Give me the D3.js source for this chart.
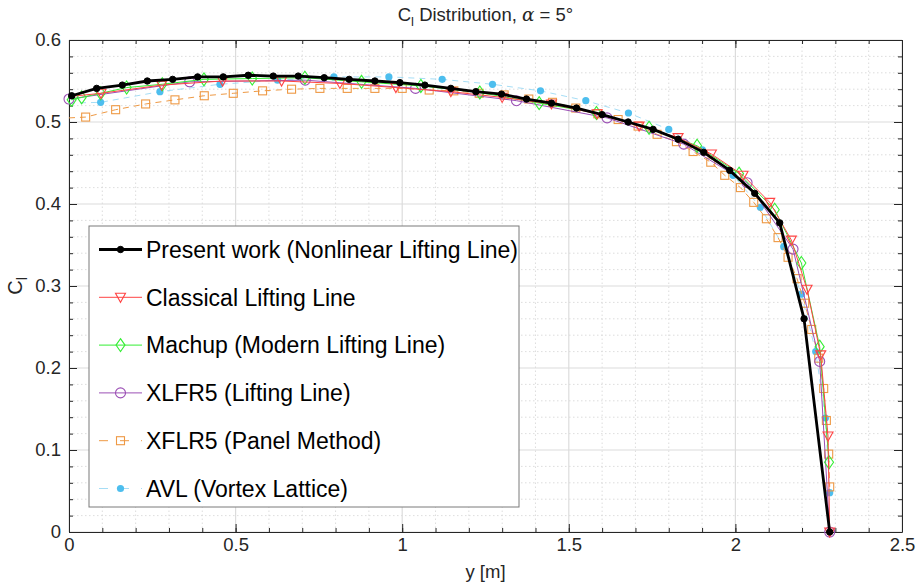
<!DOCTYPE html>
<html>
<head>
<meta charset="utf-8">
<script src="https://cdn.jsdelivr.net/npm/d3@7"></script>
<style>
  body { margin: 0; background: #fff; }
  svg { display: block; font-family: "Liberation Sans", Arial, sans-serif; }
</style>
</head>
<body>
<div id="chart"></div>
<script>
// 展向升力系数分布 (y [m], Cl)
const presentX = [0.008, 0.083, 0.160, 0.235, 0.311, 0.386, 0.463, 0.538, 0.613, 0.688, 0.766, 0.841, 0.918, 0.993, 1.068, 1.146, 1.221, 1.298, 1.373, 1.448, 1.523, 1.600, 1.678, 1.753, 1.828, 1.905, 1.983, 2.058, 2.133, 2.206, 2.283];
const presentY = [0.532, 0.541, 0.545, 0.550, 0.552, 0.555, 0.555, 0.557, 0.556, 0.556, 0.554, 0.552, 0.550, 0.548, 0.545, 0.541, 0.537, 0.534, 0.528, 0.523, 0.517, 0.509, 0.500, 0.491, 0.479, 0.463, 0.441, 0.413, 0.377, 0.260, 0.000];

const classicX = [0.000, 0.096, 0.278, 0.461, 0.638, 0.813, 0.981, 1.146, 1.300, 1.448, 1.585, 1.711, 1.828, 1.928, 2.023, 2.103, 2.168, 2.215, 2.256, 2.278, 2.283];
const classicY = [0.531, 0.535, 0.545, 0.550, 0.550, 0.547, 0.542, 0.537, 0.530, 0.522, 0.510, 0.495, 0.481, 0.461, 0.435, 0.402, 0.356, 0.296, 0.216, 0.117, 0.000];

const machupX = [0.008, 0.038, 0.095, 0.173, 0.280, 0.405, 0.550, 0.708, 0.878, 1.056, 1.233, 1.411, 1.583, 1.741, 1.885, 2.011, 2.118, 2.198, 2.253, 2.281];
const machupY = [0.527, 0.530, 0.535, 0.542, 0.546, 0.552, 0.553, 0.554, 0.549, 0.544, 0.536, 0.523, 0.511, 0.493, 0.471, 0.437, 0.393, 0.328, 0.226, 0.085];

const xlfrX = [0.000, 0.362, 0.709, 1.040, 1.343, 1.615, 1.845, 2.035, 2.173, 2.253, 2.283];
const xlfrY = [0.528, 0.549, 0.551, 0.541, 0.526, 0.505, 0.473, 0.426, 0.345, 0.208, 0.000];

const panelX = [0.000, 0.050, 0.140, 0.230, 0.318, 0.406, 0.493, 0.581, 0.668, 0.753, 0.835, 0.918, 1.000, 1.081, 1.155, 1.231, 1.306, 1.380, 1.451, 1.521, 1.587, 1.648, 1.708, 1.765, 1.823, 1.873, 1.926, 1.968, 2.015, 2.055, 2.093, 2.128, 2.158, 2.185, 2.208, 2.229, 2.250, 2.265, 2.273, 2.280, 2.283];
const panelY = [0.505, 0.506, 0.515, 0.522, 0.527, 0.532, 0.535, 0.538, 0.540, 0.541, 0.541, 0.541, 0.541, 0.539, 0.538, 0.535, 0.533, 0.528, 0.524, 0.517, 0.510, 0.503, 0.495, 0.485, 0.476, 0.464, 0.451, 0.435, 0.420, 0.402, 0.382, 0.359, 0.335, 0.309, 0.279, 0.247, 0.212, 0.175, 0.136, 0.095, 0.055];

const avlX = [0.000, 0.095, 0.273, 0.453, 0.626, 0.795, 0.960, 1.120, 1.271, 1.415, 1.551, 1.679, 1.800, 1.901, 1.993, 2.075, 2.145, 2.198, 2.241, 2.270, 2.283];
const avlY = [0.523, 0.524, 0.537, 0.546, 0.551, 0.555, 0.555, 0.552, 0.546, 0.538, 0.526, 0.511, 0.491, 0.466, 0.435, 0.396, 0.348, 0.290, 0.220, 0.139, 0.048];

const seriesNames = [
    "Present work (Nonlinear Lifting Line)",
    "Classical Lifting Line",
    "Machup (Modern Lifting Line)",
    "XLFR5 (Lifting Line)",
    "XFLR5 (Panel Method)",
    "AVL (Vortex Lattice)"
];

const xTicks = [0, 0.5, 1, 1.5, 2, 2.5];
const yTicks = [0, 0.1, 0.2, 0.3, 0.4, 0.5, 0.6];

// 样式
const series = [
    { name: seriesNames[0], xs: presentX, ys: presentY, color: "#000000", width: 2.8, dash: null, marker: "dot", markFrom: 0 },
    { name: seriesNames[1], xs: classicX, ys: classicY, color: "#ff4444", width: 1, dash: null, marker: "tri", markFrom: 1 },
    { name: seriesNames[2], xs: machupX, ys: machupY, color: "#33ee33", width: 1, dash: null, marker: "diamond", markFrom: 0 },
    { name: seriesNames[3], xs: xlfrX, ys: xlfrY, color: "#9b4fb5", width: 1, dash: null, marker: "circle", markFrom: 0 },
    { name: seriesNames[4], xs: panelX, ys: panelY, color: "#ee9944", width: 1, dash: "6,5", marker: "square", markFrom: 1 },
    { name: seriesNames[5], xs: avlX, ys: avlY, color: "#4dbeee", width: 0.8, dash: "6,5", marker: "fdot", markFrom: 1, lineColor: "#8fd4f2" }
];

const W = 921, H = 582;
const margin = { left: 69, right: 19, top: 40, bottom: 50 };

const svg = d3.select('#chart').append('svg')
    .attr('width', W)
    .attr('height', H);

const x = d3.scaleLinear().domain([0, 2.5]).range([margin.left, W - margin.right]);
const y = d3.scaleLinear().domain([0, 0.6]).range([H - margin.bottom, margin.top]);

// 网格
const grid = svg.append('g');
grid.selectAll('.vminor')
    .data(d3.range(0, 26).map(i => i / 10).filter(v => Math.abs(v * 2 - Math.round(v * 2)) > 1e-6))
    .join('line')
    .attr('x1', d => x(d)).attr('x2', d => x(d))
    .attr('y1', y(0)).attr('y2', y(0.6))
    .style('stroke', '#d4d4d4').style('stroke-width', 0.8).style('stroke-dasharray', '1.5,2.5');
grid.selectAll('.hminor')
    .data(d3.range(0, 31).map(i => i / 50).filter(v => Math.abs(v * 10 - Math.round(v * 10)) > 1e-6))
    .join('line')
    .attr('x1', x(0)).attr('x2', x(2.5))
    .attr('y1', d => y(d)).attr('y2', d => y(d))
    .style('stroke', '#d4d4d4').style('stroke-width', 0.8).style('stroke-dasharray', '1.5,2.5');
grid.selectAll('.vmajor')
    .data(xTicks)
    .join('line')
    .attr('x1', d => x(d)).attr('x2', d => x(d))
    .attr('y1', y(0)).attr('y2', y(0.6))
    .style('stroke', '#dcdcdc').style('stroke-width', 1.2);
grid.selectAll('.hmajor')
    .data(yTicks)
    .join('line')
    .attr('x1', x(0)).attr('x2', x(2.5))
    .attr('y1', d => y(d)).attr('y2', d => y(d))
    .style('stroke', '#dcdcdc').style('stroke-width', 1.2);

// 坐标轴 (刻度朝内, 带次刻度)
const axisColor = '#262626';
function styleAxis(g) {
    g.selectAll('path.domain').style('stroke', axisColor);
    g.selectAll('.tick line').style('stroke', axisColor);
    g.selectAll('.tick text').style('fill', axisColor).style('font-size', '18.5px')
        .style('font-family', '"Liberation Sans", Arial, sans-serif');
}
const xMinor = d3.range(0, 26).map(i => i / 10);
const yMinor = d3.range(0, 31).map(i => i / 50);

const gxb = svg.append('g').attr('transform', `translate(0,${y(0)})`)
    .call(d3.axisBottom(x).tickValues(xTicks).tickFormat(d3.format('')).tickSizeInner(-8).tickSizeOuter(0).tickPadding(6));
styleAxis(gxb);
svg.append('g').attr('transform', `translate(0,${y(0)})`)
    .call(d3.axisBottom(x).tickValues(xMinor).tickFormat('').tickSizeInner(-4).tickSizeOuter(0))
    .call(g => { g.select('.domain').remove(); g.selectAll('line').style('stroke', axisColor); });
const gxt = svg.append('g').attr('transform', `translate(0,${y(0.6)})`)
    .call(d3.axisTop(x).tickValues(xTicks).tickFormat('').tickSizeInner(-8).tickSizeOuter(0));
styleAxis(gxt);
svg.append('g').attr('transform', `translate(0,${y(0.6)})`)
    .call(d3.axisTop(x).tickValues(xMinor).tickFormat('').tickSizeInner(-4).tickSizeOuter(0))
    .call(g => { g.select('.domain').remove(); g.selectAll('line').style('stroke', axisColor); });

const gyl = svg.append('g').attr('transform', `translate(${x(0)},0)`)
    .call(d3.axisLeft(y).tickValues(yTicks).tickFormat(d3.format('')).tickSizeInner(-8).tickSizeOuter(0).tickPadding(8));
styleAxis(gyl);
svg.append('g').attr('transform', `translate(${x(0)},0)`)
    .call(d3.axisLeft(y).tickValues(yMinor).tickFormat('').tickSizeInner(-4).tickSizeOuter(0))
    .call(g => { g.select('.domain').remove(); g.selectAll('line').style('stroke', axisColor); });
const gyr = svg.append('g').attr('transform', `translate(${x(2.5)},0)`)
    .call(d3.axisRight(y).tickValues(yTicks).tickFormat('').tickSizeInner(-8).tickSizeOuter(0));
styleAxis(gyr);
svg.append('g').attr('transform', `translate(${x(2.5)},0)`)
    .call(d3.axisRight(y).tickValues(yMinor).tickFormat('').tickSizeInner(-4).tickSizeOuter(0))
    .call(g => { g.select('.domain').remove(); g.selectAll('line').style('stroke', axisColor); });

// 标记
function drawMarker(sel, type, color) {
    if (type === 'dot') {
        sel.append('circle').attr('r', 3.2).style('fill', color).style('stroke', color);
    } else if (type === 'fdot') {
        sel.append('circle').attr('r', 3.6).style('fill', color).style('stroke', 'none');
    } else if (type === 'tri') {
        sel.append('path').attr('d', 'M-5,-4L5,-4L0,5Z').style('fill', 'none').style('stroke', color).style('stroke-width', 1.1);
    } else if (type === 'diamond') {
        sel.append('path').attr('d', 'M0,-6.5L4.5,0L0,6.5L-4.5,0Z').style('fill', 'none').style('stroke', color).style('stroke-width', 1.1);
    } else if (type === 'circle') {
        sel.append('circle').attr('r', 5).style('fill', 'none').style('stroke', color).style('stroke-width', 1.1);
    } else if (type === 'square') {
        sel.append('rect').attr('x', -4).attr('y', -4).attr('width', 8).attr('height', 8)
            .style('fill', 'none').style('stroke', color).style('stroke-width', 1.1);
    }
}

const plot = svg.append('g');
const line = d3.line().x(d => x(d[0])).y(d => y(d[1]));

// 绘制顺序: 先细线, 最后黑线
const order = [5, 4, 3, 2, 1, 0];
order.forEach(i => {
    const s = series[i];
    const pts = s.xs.map((v, k) => [v, s.ys[k]]);
    plot.append('path')
        .datum(pts)
        .attr('d', line)
        .style('fill', 'none')
        .style('stroke', s.lineColor || s.color)
        .style('stroke-width', s.width)
        .style('stroke-dasharray', s.dash);
    plot.append('g').selectAll('g')
        .data(pts.slice(s.markFrom))
        .join('g')
        .attr('transform', d => `translate(${x(d[0])},${y(d[1])})`)
        .each(function() { drawMarker(d3.select(this), s.marker, s.color); });
});

// 图例
const legend = svg.append('g');
const lgX = 89, lgY = 226, lgW = 430, lgH = 281, rowH = 47.8;
legend.append('rect')
    .attr('x', lgX).attr('y', lgY).attr('width', lgW).attr('height', lgH)
    .style('fill', '#fff').style('stroke', '#7a7a7a').style('stroke-width', 1);
series.forEach((s, i) => {
    const cy = lgY + 23.5 + i * rowH;
    const row = legend.append('g');
    row.append('line')
        .attr('x1', lgX + 10).attr('x2', lgX + 53)
        .attr('y1', cy).attr('y2', cy)
        .style('stroke', s.lineColor || s.color)
        .style('stroke-width', s.width)
        .style('stroke-dasharray', s.dash ? '9,12' : null);
    const m = row.append('g').attr('transform', `translate(${lgX + 31.5},${cy})`);
    drawMarker(m, s.marker, s.color);
    row.append('text')
        .attr('x', lgX + 57).attr('y', cy)
        .attr('dy', '0.36em')
        .style('font-size', '23px')
        .style('fill', '#000')
        .text(s.name);
});

// 标题
const title = svg.append('text')
    .attr('x', (x(0) + x(2.5)) / 2)
    .attr('y', 21)
    .attr('text-anchor', 'middle')
    .style('font-size', '18.5px')
    .style('fill', axisColor);
title.append('tspan').text('C');
title.append('tspan').attr('dy', 5).style('font-size', '13px').text('l');
title.append('tspan').attr('dy', -5).text(' Distribution, ');
title.append('tspan').style('font-family', '"DejaVu Serif", serif').style('font-style', 'italic').text('α');
title.append('tspan').text(' = 5°');

// 轴标签
svg.append('text')
    .attr('x', (x(0) + x(2.5)) / 2)
    .attr('y', 578)
    .attr('text-anchor', 'middle')
    .style('font-size', '18.5px')
    .style('fill', axisColor)
    .text('y [m]');

const ylab = svg.append('text')
    .attr('transform', `translate(22,${(y(0) + y(0.6)) / 2}) rotate(-90)`)
    .attr('text-anchor', 'middle')
    .style('font-size', '20px')
    .style('fill', axisColor);
ylab.append('tspan').text('C');
ylab.append('tspan').attr('dy', 5).style('font-size', '14px').text('l');
</script>
</body>
</html>
